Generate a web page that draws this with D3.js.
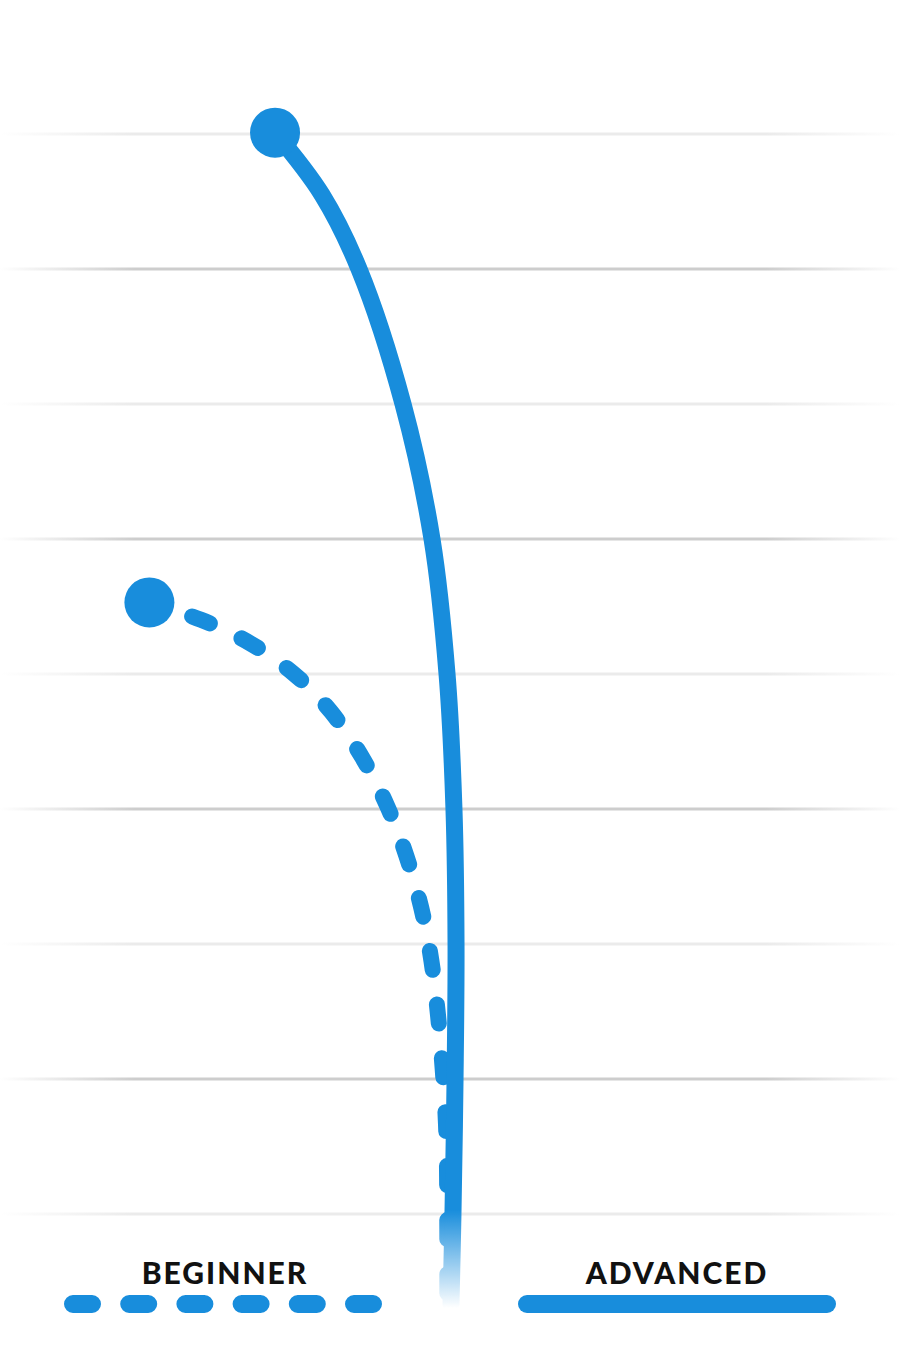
<!DOCTYPE html>
<html>
<head>
<meta charset="utf-8">
<script src="https://cdn.jsdelivr.net/npm/d3@7"></script>
<style>
  html, body { margin: 0; padding: 0; background: #fff; }
  svg { display: block; }
</style>
</head>
<body>
<div id="chart"></div>
<script>
// grid levels (y value units)
const gridLevels = [1, 2, 3, 4, 5, 6, 7, 8, 9];

// advanced learner curve (x: progress 0-100, y: level 0-10)
const advancedX = [30.56, 35.78, 39.89, 44.78, 48.0, 49.67, 50.44, 50.67, 50.56, 50.33, 50.11];
const advancedY = [9.01, 8.55, 8.0, 7.0, 6.0, 5.0, 4.0, 3.0, 2.0, 1.0, 0.33];

// beginner curve
const beginnerX = [16.6, 22.4, 27.8, 32.8, 36.9, 40.3, 43.1, 45.2, 46.9, 48.0, 48.7, 49.2, 49.6, 49.7, 49.7];
const beginnerY = [5.53, 5.41, 5.24, 5.01, 4.73, 4.39, 4.03, 3.66, 3.27, 2.88, 2.47, 2.08, 1.67, 1.27, 0.33];

const legendLabels = ["BEGINNER", "ADVANCED"];

function drawChart() {
  const width = 900,
    height = 1350;
  const blue = "#188ddc";

  const svg = d3
    .select("#chart")
    .append("svg")
    .attr("width", width)
    .attr("height", height);

  const x = d3.scaleLinear().domain([0, 100]).range([0, width]);
  const y = d3.scaleLinear().domain([0, 10]).range([1349, -1]);

  const defs = svg.append("defs");

  // gridline gradients fading at both ends
  const gridGrad = (id, color) => {
    const g = defs
      .append("linearGradient")
      .attr("id", id)
      .attr("x1", 0)
      .attr("x2", 1)
      .attr("y1", 0)
      .attr("y2", 0);
    g.append("stop").attr("offset", "0%").attr("stop-color", "#fff");
    g.append("stop").attr("offset", "15%").attr("stop-color", color);
    g.append("stop").attr("offset", "85%").attr("stop-color", color);
    g.append("stop").attr("offset", "100%").attr("stop-color", "#fff");
  };
  gridGrad("gridLight", "#ebebeb");
  gridGrad("gridDark", "#cdcdcd");

  // fade the curves out at the bottom
  const fade = defs
    .append("linearGradient")
    .attr("id", "fadeGrad")
    .attr("gradientUnits", "userSpaceOnUse")
    .attr("x1", 0)
    .attr("x2", 0)
    .attr("y1", 1210)
    .attr("y2", 1308);
  fade.append("stop").attr("offset", "0%").attr("stop-color", "#fff");
  fade.append("stop").attr("offset", "100%").attr("stop-color", "#000");
  defs
    .append("mask")
    .attr("id", "fadeMask")
    .attr("maskUnits", "userSpaceOnUse")
    .attr("x", 0)
    .attr("y", 0)
    .attr("width", width)
    .attr("height", height)
    .append("rect")
    .attr("width", width)
    .attr("height", height)
    .attr("fill", "url(#fadeGrad)");

  // gridlines
  svg
    .append("g")
    .selectAll("rect")
    .data(gridLevels)
    .join("rect")
    .attr("x", 0)
    .attr("width", width)
    .attr("y", (d) => y(d) - 1.5)
    .attr("height", 3)
    .attr("fill", (d) => (d % 2 === 0 ? "url(#gridDark)" : "url(#gridLight)"));

  const curves = svg.append("g").attr("mask", "url(#fadeMask)");

  const line = d3
    .line()
    .x((d) => x(d[0]))
    .y((d) => y(d[1]));

  const beginner = d3.zip(beginnerX, beginnerY);
  const advanced = d3.zip(advancedX, advancedY);

  // beginner dashed curve
  curves
    .append("path")
    .datum(beginner)
    .attr("d", line.curve(d3.curveBasis))
    .attr("fill", "none")
    .attr("stroke", blue)
    .attr("stroke-width", 16)
    .attr("stroke-linecap", "round")
    .attr("stroke-dasharray", "19 35")
    .attr("stroke-dashoffset", 9);

  // advanced solid curve
  curves
    .append("path")
    .datum(advanced)
    .attr("d", line.curve(d3.curveCatmullRom.alpha(0.5)))
    .attr("fill", "none")
    .attr("stroke", blue)
    .attr("stroke-width", 17)
    .attr("stroke-linecap", "round");

  // start dots
  svg
    .append("g")
    .selectAll("circle")
    .data([beginner[0], advanced[0]])
    .join("circle")
    .attr("cx", (d) => x(d[0]))
    .attr("cy", (d) => y(d[1]))
    .attr("r", 25)
    .attr("fill", blue);

  // legend
  const legend = svg.append("g");
  const legendCenters = [225, 677];

  legend
    .selectAll("text")
    .data(legendLabels)
    .join("text")
    .attr("x", (d, i) => legendCenters[i])
    .attr("y", 1284)
    .attr("text-anchor", "middle")
    .style("font-family", "Lato, 'Open Sans', sans-serif")
    .style("font-weight", 900)
    .style("font-size", "30px")
    .style("letter-spacing", "2px")
    .style("fill", "#111")
    .text((d) => d);

  legend
    .selectAll("line")
    .data(legendLabels)
    .join("line")
    .attr("x1", (d, i) => [223, 677][i] - 150)
    .attr("x2", (d, i) => [223, 677][i] + 150)
    .attr("y1", 1304)
    .attr("y2", 1304)
    .attr("stroke", blue)
    .attr("stroke-width", 18)
    .attr("stroke-linecap", "round")
    .attr("stroke-dasharray", (d, i) => (i === 0 ? "19 37.2" : null));
}

drawChart();
</script>
</body>
</html>
